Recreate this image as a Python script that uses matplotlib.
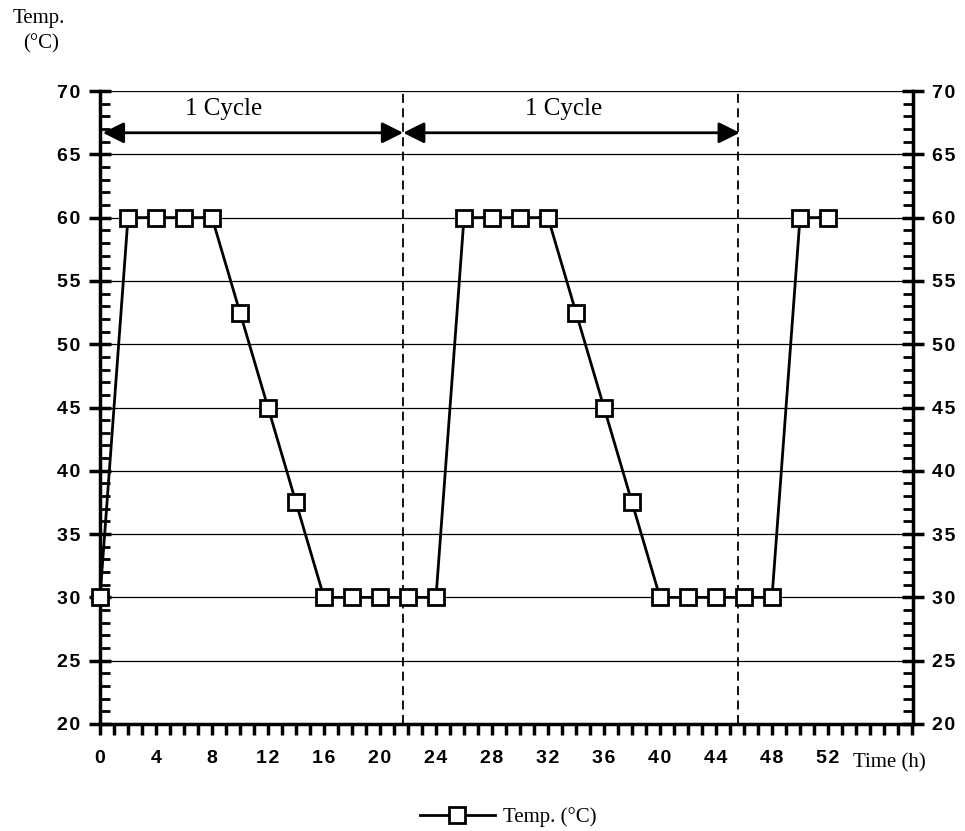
import matplotlib.pyplot as plt
from matplotlib.ticker import MultipleLocator, FuncFormatter

# time (h) and temperature (°C) readings
hours = [0, 2, 4, 6, 8, 10, 12, 14, 16, 18, 20, 22, 24, 26,
         28, 30, 32, 34, 36, 38, 40, 42, 44, 46, 48, 50, 52]
temps = [30, 60, 60, 60, 60, 52.5, 45, 37.5, 30, 30, 30, 30, 30, 60,
         60, 60, 60, 52.5, 45, 37.5, 30, 30, 30, 30, 30, 60, 60]

cycle_marks = [21.65, 45.6]
cycle_arrows = [(0.2, 21.65), (21.65, 45.7)]
cycle_text_x = [8.85, 33.1]
x_ticks = list(range(0, 53, 4))
y_ticks = list(range(20, 71, 5))

serif = 'Liberation Serif'
sans = ['Liberation Sans', 'DejaVu Sans']

fig = plt.figure(figsize=(9.65, 8.31), dpi=100)
ax = fig.add_axes([100/965, 1 - 724/831, 813/965, 633/831])

ax.set_xlim(0, 58.07)
ax.set_ylim(20, 70)

for y in y_ticks:
    ax.axhline(y, color='black', lw=0.9, zorder=1)

for xm in cycle_marks:
    ax.axvline(xm, color='black', lw=1.3, ls=(0, (5, 3)), zorder=2)

ax.plot(hours, temps, color='black', lw=2, marker='s', ms=11,
        mfc='white', mec='black', mew=2, zorder=4, label='Temp. (°C)',
        clip_on=False)

for (x0, x1), tx in zip(cycle_arrows, cycle_text_x):
    ax.annotate('', xy=(x0, 66.7), xytext=(x1, 66.7),
                arrowprops=dict(arrowstyle='<|-|>', color='black', lw=2,
                                mutation_scale=32, shrinkA=0, shrinkB=0))
    ax.text(tx, 68.6, '1 Cycle', family=serif, fontsize=18,
            ha='center', va='center')

ax.spines['top'].set_visible(False)
for s in ['left', 'right', 'bottom']:
    ax.spines[s].set_linewidth(2.5)

# slightly spaced-out digits like the original tick labels
spaced = FuncFormatter(lambda v, p: '\u200a'.join(str(int(v))))
ax.set_xticks(x_ticks)
ax.xaxis.set_major_formatter(spaced)
ax.xaxis.set_minor_locator(MultipleLocator(1))
ax.set_yticks(y_ticks)
ax.yaxis.set_major_formatter(spaced)
ax.yaxis.set_minor_locator(MultipleLocator(1))
ax.tick_params(axis='y', which='major', direction='inout', length=16,
               width=2.5, left=True, right=True, labelleft=True,
               labelright=True, pad=6)
ax.tick_params(axis='y', which='minor', direction='in', length=7,
               width=2, left=True, right=True)
ax.tick_params(axis='x', which='both', direction='out', length=8,
               width=2.5, pad=11)

for lab in ax.get_xticklabels() + ax.get_yticklabels():
    lab.set_fontfamily(sans)
    lab.set_fontweight('bold')
    lab.set_fontsize(14)

fig.text(13/965, 1 - 19/831, 'Temp.', family=serif, fontsize=15,
         ha='left', va='center')
fig.text(23/965, 1 - 44/831, '(°C)', family=serif, fontsize=15,
         ha='left', va='center')
fig.text(853/965, 1 - 763/831, 'Time (h)', family=serif, fontsize=15,
         ha='left', va='center')

fig.legend(loc='center', bbox_to_anchor=(508/965, 1 - 817/831),
           frameon=False, prop={'family': serif, 'size': 15},
           handlelength=3.6, handletextpad=0.4)

fig.savefig('out.png', dpi=100)
